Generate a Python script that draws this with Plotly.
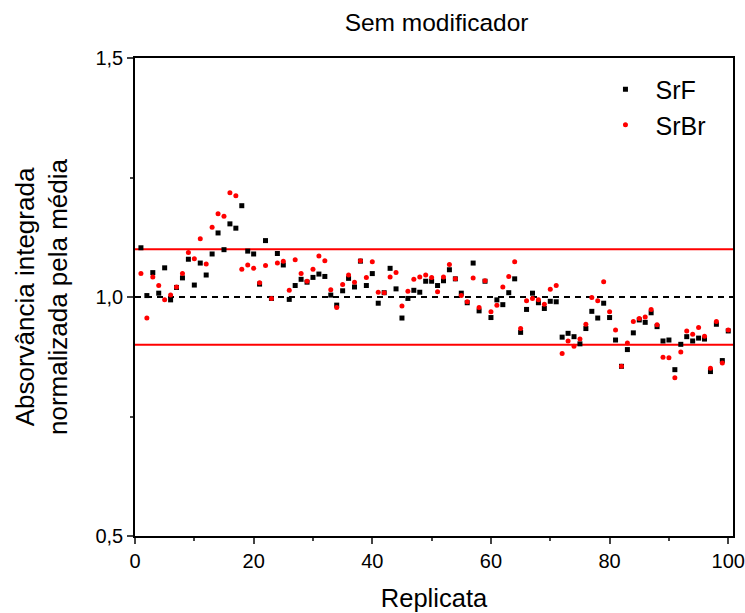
import plotly.graph_objects as go

replicata = list(range(1, 101))

srf = [1.103, 1.003, 1.051, 1.008, 1.061, 0.994, 1.020, 1.040, 1.079, 1.025,
       1.071, 1.046, 1.090, 1.134, 1.099, 1.153, 1.144, 1.191, 1.096, 1.090,
       1.027, 1.118, 0.997, 1.091, 1.067, 0.995, 1.024, 1.037, 1.031, 1.041,
       1.048, 1.043, 1.004, 0.983, 1.013, 1.039, 1.021, 1.075, 1.024, 1.049,
       0.987, 1.009, 1.060, 1.017, 0.956, 0.997, 1.014, 1.010, 1.033, 1.033,
       1.024, 1.034, 1.057, 1.038, 1.008, 0.988, 1.071, 0.971, 1.033, 0.957,
       0.994, 0.984, 1.009, 1.038, 0.926, 0.974, 1.008, 0.988, 0.976, 0.991,
       0.990, 0.916, 0.924, 0.917, 0.902, 0.934, 0.970, 0.956, 0.987, 0.957,
       0.910, 0.855, 0.890, 0.925, 0.952, 0.947, 0.967, 0.938, 0.908, 0.910,
       0.848, 0.901, 0.917, 0.908, 0.914, 0.912, 0.844, 0.943, 0.867, 0.929]

srbr = [1.049, 0.956, 1.042, 1.024, 0.994, 1.004, 1.021, 1.049, 1.093, 1.080,
        1.122, 1.069, 1.146, 1.174, 1.169, 1.218, 1.212, 1.058, 1.067, 1.060,
        1.030, 1.066, 0.997, 1.071, 1.075, 1.014, 1.078, 1.049, 1.033, 1.058,
        1.086, 1.076, 1.015, 0.978, 1.026, 1.046, 1.031, 1.076, 1.041, 1.074,
        1.010, 1.009, 1.042, 1.051, 0.981, 1.012, 1.037, 1.042, 1.046, 1.041,
        1.011, 1.042, 1.068, 1.038, 1.003, 0.990, 1.040, 0.978, 1.034, 0.969,
        0.983, 1.021, 1.043, 1.074, 0.934, 0.992, 0.997, 0.994, 0.985, 1.016,
        1.024, 0.882, 0.908, 0.897, 0.912, 0.943, 0.999, 0.992, 1.032, 0.969,
        0.931, 0.855, 0.904, 0.949, 0.955, 0.958, 0.974, 0.942, 0.874, 0.873,
        0.831, 0.885, 0.929, 0.922, 0.936, 0.918, 0.851, 0.949, 0.862, 0.931]

media = 1.0
limites = [0.9, 1.1]

x_ticks = [0, 20, 40, 60, 80, 100]
y_ticks = [0.5, 1.0, 1.5]
y_ticklabels = ["0,5", "1,0", "1,5"]

FONT = "Liberation Sans, Arial, sans-serif"

fig = go.Figure()
fig.add_trace(go.Scatter(x=replicata, y=srf, mode="markers", name="SrF",
                         marker=dict(symbol="square", size=5, color="black")))
fig.add_trace(go.Scatter(x=replicata, y=srbr, mode="markers", name="SrBr",
                         marker=dict(symbol="circle", size=5, color="#ff0000")))

fig.add_hline(y=media, line=dict(color="black", width=2, dash="6px,5px"), layer="below")
for v in limites:
    fig.add_hline(y=v, line=dict(color="#ff0000", width=2), layer="below")

fig.update_layout(
    width=745, height=613,
    margin=dict(l=135, r=12, t=58, b=77, autoexpand=False),
    paper_bgcolor="white", plot_bgcolor="white",
    font=dict(family=FONT, color="black", size=20),
    title=dict(text="Sem modificador", x=0.586, xanchor="center", y=0.963, yanchor="middle",
               font=dict(size=24.5)),
    legend=dict(x=0.77, y=0.982, xanchor="left", yanchor="top", bgcolor="rgba(0,0,0,0)",
                font=dict(size=25), itemwidth=50, tracegroupgap=0),
    showlegend=True,
)
fig.update_xaxes(range=[0, 100.8], tickvals=x_ticks, ticks="outside", ticklen=6, tickwidth=1.5,
                 showline=True, linecolor="black", linewidth=1.5, mirror=True, showgrid=False,
                 zeroline=False, tickfont=dict(size=20), automargin=False,
                 minor=dict(dtick=10, tick0=0, ticks="outside", ticklen=3, tickwidth=1.5),
                 title=dict(text="Replicata", font=dict(size=25.5), standoff=18))
fig.update_yaxes(range=[0.5, 1.5], tickvals=y_ticks, ticktext=y_ticklabels, ticks="outside",
                 ticklen=6, tickwidth=1.5, showline=True, linecolor="black", linewidth=1.5,
                 mirror=True, showgrid=False, zeroline=False, tickfont=dict(size=20),
                 automargin=False,
                 minor=dict(dtick=0.25, tick0=0.5, ticks="outside", ticklen=3, tickwidth=1.5),
                 title=dict(text="Absorvância integrada<br>normalizada pela média",
                            font=dict(size=26), standoff=20))

fig.write_html("out.html")
